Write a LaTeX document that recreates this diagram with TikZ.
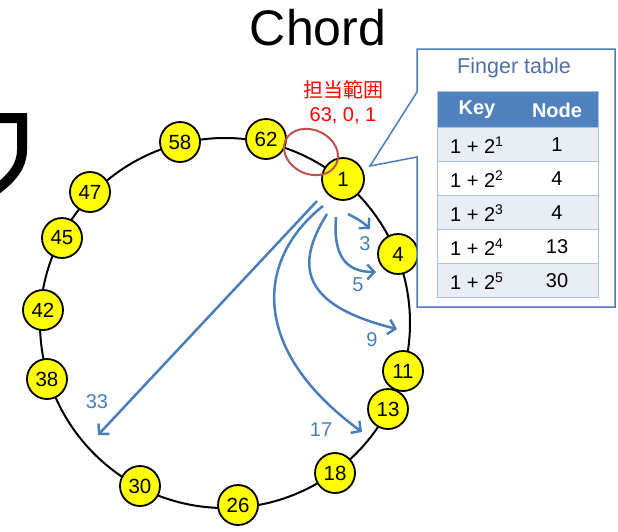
\documentclass[tikz,border=0pt]{standalone}
\usepackage{fontspec}
\setmainfont{Liberation Sans}
\newfontfamily\cjkfont{Noto Sans CJK JP}
\usetikzlibrary{arrows.meta}

\definecolor{fingerblue}{RGB}{74,126,187}
\definecolor{headblue}{RGB}{79,129,189}
\definecolor{titleblue}{RGB}{79,112,168}
\definecolor{rowlight}{RGB}{233,237,244}
\definecolor{rowline}{RGB}{170,194,226}
\definecolor{rangered}{RGB}{192,80,77}
\definecolor{peeryellow}{RGB}{255,255,0}

\newcommand\fsz[1]{\fontsize{#1}{#1}\selectfont}

\tikzset{
  peer/.style={circle, draw=black, line width=1.8pt, fill=peeryellow,
    minimum size=40pt, inner sep=0pt, font=\fsz{20.5}},
  finger/.style={draw=fingerblue, line width=2.5pt,
    -{Straight Barb[length=7pt,width=15pt,line width=2.5pt]}},
  fingerlabel/.style={text=fingerblue, font=\fsz{20}, inner sep=0pt},
  cell/.style={font=\fsz{20}, inner sep=0pt},
  headcell/.style={font=\fsz{20}\bfseries, text=white, inner sep=0pt},
}

\begin{document}
\begin{tikzpicture}[x=1pt, y=-1pt]
\useasboundingbox (0,0) rectangle (618,531);

% title
\node[font=\fsz{50}, inner sep=0pt] (title) at (318,28) {Chord};

% thick stroke cut by the left edge
\begin{scope}
  \clip (0,90) rectangle (40,200);
  \draw[line width=10pt] (-2,118) -- (22,118) -- (22,150)
    .. controls (22,166) and (12,178) .. (-4,190);
\end{scope}

% the ring
\draw[line width=2pt] (225,323) circle[radius=185pt];

% peers on the ring
\node[peer] (p58) at (180,142) {58};
\node[peer] (p62) at (266,139) {62};
\node[peer, minimum size=42pt] (p1) at (343,179) {1};
\node[peer] (p4) at (398,254) {4};
\node[peer] (p11) at (403,371) {11};
\node[peer] (p13) at (388,409) {13};
\node[peer] (p18) at (335,473) {18};
\node[peer] (p26) at (238,505) {26};
\node[peer] (p30) at (140,486) {30};
\node[peer] (p38) at (47,379) {38};
\node[peer] (p42) at (43,310) {42};
\node[peer] (p45) at (62,238) {45};
\node[peer] (p47) at (90,192) {47};

% range of peer 1
\draw[rangered, line width=2pt, rotate around={-25:(311,152)}]
  (311,152) circle[x radius=28pt, y radius=22pt];
\node[text=red, font=\fsz{20}\cjkfont, inner sep=0pt] (rangehead) at (343,90) {担当範囲};
\node[text=red, font=\fsz{20}, inner sep=0pt] (rangeval) at (343,116) {63, 0, 1};

% finger pointers leaving peer 1
\coordinate (s3) at (348,214);
\coordinate (s5) at (336,217);
\coordinate (s9) at (327,214);
\coordinate (s17) at (323,206);
\coordinate (s33) at (317,201);
\coordinate (e3) at (370,229);
\coordinate (e5) at (376,272);
\coordinate (e9) at (397,329);
\coordinate (e17) at (362,432);
\coordinate (e33) at (98,435);

\draw[finger] (s3) .. controls (356,218) and (363,222) .. (e3);
\draw[finger] (s5) .. controls (333,255) and (345,272) .. (e5);
\draw[finger] (s9) .. controls (295,265) and (300,305) .. (e9);
\draw[finger] (s17) .. controls (255,260) and (250,350) .. (e17);
\draw[finger] (s33) -- (e33);

\node[fingerlabel] (l3) at (365,244) {3};
\node[fingerlabel] (l5) at (358,285) {5};
\node[fingerlabel] (l9) at (372,340) {9};
\node[fingerlabel] (l17) at (321,430) {17};
\node[fingerlabel] (l33) at (97,402) {33};

% callout with the finger table
\draw[fingerblue, line width=1.5pt, fill=white]
  (417,49) -- (615,49) -- (615,307) -- (417,307) -- (417,157)
  -- (370,166) -- (417,92) -- cycle;
\node[text=titleblue, font=\fsz{21.5}, inner sep=0pt] (ftitle) at (514,68) {Finger table};

\fill[headblue] (437,91) rectangle (598,127);
\foreach \i in {0,2,4} {
  \fill[rowlight] (437,127+34*\i) rectangle (598,161+34*\i);
}
\foreach \i in {1,...,4} {
  \draw[rowline, line width=1pt] (437,127+34*\i) -- (598,127+34*\i);
}
\draw[rowline, line width=1pt] (437,127) -- (598,127);
\draw[rowline, line width=1pt] (437,91) rectangle (598,297);

\node[headcell] (hkey) at (477,110) {Key};
\node[headcell] (hnode) at (557,110) {Node};

\node[cell, anchor=west] (k1) at (450,145) {1 + 2\textsuperscript{1}};
\node[cell, anchor=west] (k2) at (450,179) {1 + 2\textsuperscript{2}};
\node[cell, anchor=west] (k3) at (450,213) {1 + 2\textsuperscript{3}};
\node[cell, anchor=west] (k4) at (450,247) {1 + 2\textsuperscript{4}};
\node[cell, anchor=west] (k5) at (450,281) {1 + 2\textsuperscript{5}};
\node[cell] (v1) at (557,145) {1};
\node[cell] (v2) at (557,179) {4};
\node[cell] (v3) at (557,213) {4};
\node[cell] (v4) at (557,247) {13};
\node[cell] (v5) at (557,281) {30};
\end{tikzpicture}
\end{document}
